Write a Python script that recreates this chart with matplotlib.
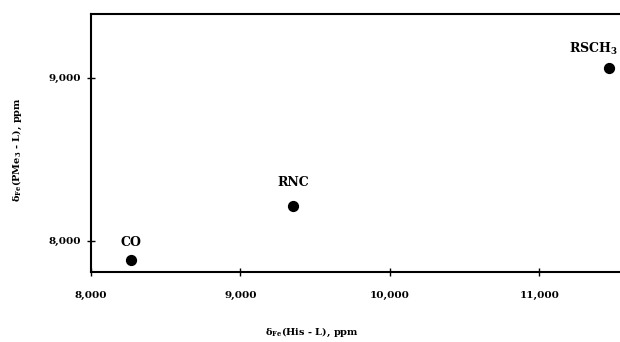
import matplotlib
matplotlib.use("Agg")
import matplotlib.pyplot as plt

# Data
ligands = ["CO", "RNC", "RSCH$_3$"]
his_shift = [8265, 9353, 11467]      # delta Fe (His - L), ppm
pme3_shift = [7881, 8215, 9060]      # delta Fe (PMe3 - L), ppm
x_ticks = [8000, 9000, 10000, 11000]
y_ticks = [8000, 9000]
x_ticklabels = ["8,000", "9,000", "10,000", "11,000"]
y_ticklabels = ["8,000", "9,000"]

plt.rcParams['font.family'] = ['DejaVu Serif']
plt.rcParams['mathtext.fontset'] = 'dejavuserif'
plt.rcParams['mathtext.default'] = 'bf'

fig = plt.figure(figsize=(6.2, 3.42), dpi=100)
ax = fig.add_axes([91/620, 70/342, 538/620, 258/342])

ax.scatter(his_shift, pme3_shift, s=50, color='black', zorder=3)
label_offsets = {"CO": (0, 13), "RNC": (0, 17), "RSCH$_3$": (-11, 14)}
for name, x, y in zip(ligands, his_shift, pme3_shift):
    ax.annotate(name, (x, y), xytext=label_offsets[name], textcoords='offset points',
                ha='center', va='center', fontsize=9, fontweight='bold',
                annotation_clip=False)

ax.set_xlim(8000, 11600)
ax.set_ylim(7808, 9393)
ax.set_xticks(x_ticks)
ax.set_xticklabels(x_ticklabels, fontsize=7.5, fontweight='bold')
ax.set_yticks(y_ticks)
ax.set_yticklabels(y_ticklabels, fontsize=7.5, fontweight='bold')
ax.tick_params(direction='inout', length=6, width=1.0, color='black')
ax.tick_params(axis='x', pad=11)
ax.tick_params(axis='y', pad=4)
for sp in ax.spines.values():
    sp.set_linewidth(1.5)
ax.spines['right'].set_visible(False)

ax.set_xlabel(r'$\delta_{\mathbf{Fe}}$(His - L), ppm', fontsize=7, fontweight='bold', va='center')
ax.xaxis.set_label_coords(0.411, -0.233)
ax.set_ylabel(r'$\delta_{\mathbf{Fe}}$(PMe$_3$ - L), ppm', fontsize=7, fontweight='bold', va='center')
ax.yaxis.set_label_coords(-0.136, 0.473)

fig.savefig("out.png", dpi=100)
